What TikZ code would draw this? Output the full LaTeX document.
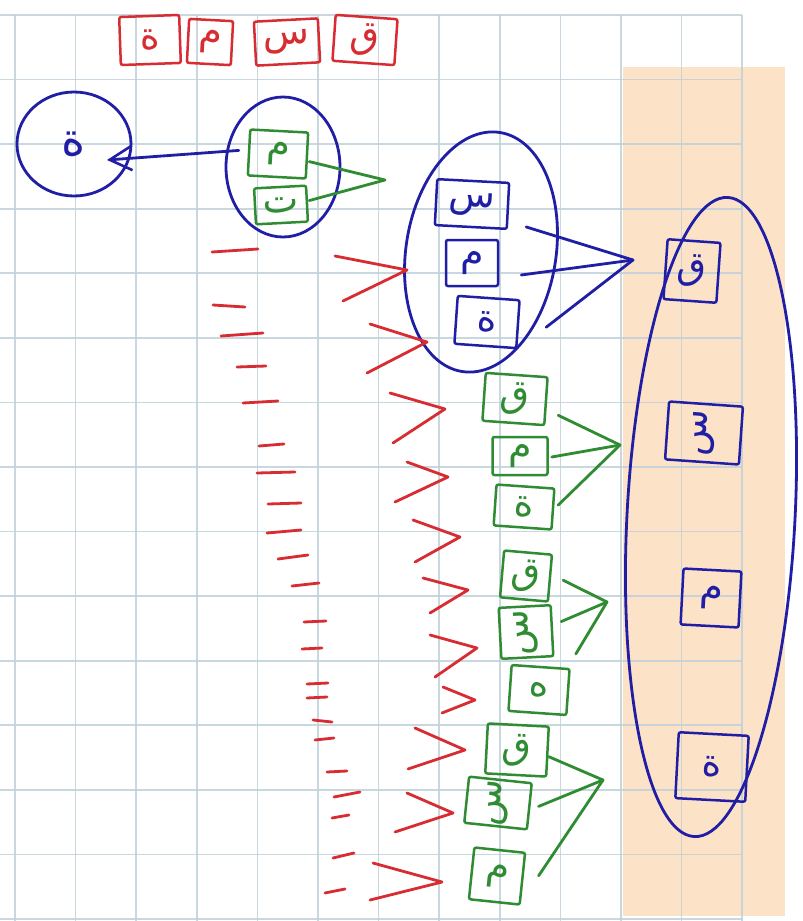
\documentclass[tikz,border=0pt]{standalone}
\usepackage{fontspec}
\usepackage{graphicx}
\newfontfamily\arabicfont[Script=Arabic]{DejaVu Sans}
\TeXXeTstate=1
\usetikzlibrary{shapes.geometric,arrows.meta}
\definecolor{gridc}{RGB}{192,208,218}
\definecolor{peach}{RGB}{252,226,198}
\definecolor{penblue}{RGB}{32,30,165}
\definecolor{pengreen}{RGB}{48,140,50}
\definecolor{penred}{RGB}{215,45,50}
\newcommand{\arl}[1]{\beginR #1\endR}
\newcommand{\arrot}[1]{\rotatebox{90}{\beginR #1\endR}}
\tikzset{
  pen/.style={line width=2.8pt, line cap=round, line join=round},
  bl/.style={pen, draw=penblue},
  gr/.style={pen, draw=pengreen},
  rd/.style={pen, draw=penred},
  lbox/.style={rectangle, rounded corners=2pt, inner sep=0pt, line width=2.5pt,
    font=\arabicfont\fontsize{38}{40}\selectfont},
  gbox/.style={lbox, draw=pengreen, text=pengreen},
  bbox/.style={lbox, draw=penblue, text=penblue},
  rbox/.style={lbox, draw=penred, text=penred},
  bell/.style={ellipse, draw=penblue, line width=2.8pt, inner sep=0pt,
    font=\arabicfont\fontsize{46}{48}\selectfont, text=penblue},
  gridline/.style={draw=gridc, line width=1.6pt, opacity=0.85}
}
\begin{document}
\begin{tikzpicture}[x=1pt,y=-1pt]
\useasboundingbox (0,0) rectangle (803,921);
\fill[white] (0,0) rectangle (803,921);
\fill[peach] (623,67) rectangle (785,916);
\foreach \i in {0,...,12} \draw[gridline] ({15+60.6*\i},15) -- ({15+60.6*\i},921);
\foreach \j in {0,...,14} \draw[gridline] (0,{15+64.57*\j}) -- (742,{15+64.57*\j});

% top red row
\node[rbox, minimum width=60pt, minimum height=48pt, rotate=2] (t1) at (150,40) {\arl{ة}};
\node[rbox, minimum width=44pt, minimum height=44pt, rotate=-3] (t2) at (210,42) {\arl{م}};
\node[rbox, minimum width=64pt, minimum height=44pt, rotate=3] (t3) at (287,42) {\arl{س}};
\node[rbox, minimum width=62pt, minimum height=46pt, rotate=-4] (t4) at (365,40) {\arl{ق}};

% left circle and first pair
\node[bell, minimum width=114pt, minimum height=104pt] (e0) at (74,144) {\arl{ة}};
\node[bell, minimum width=114pt, minimum height=140pt] (mt) at (283,167) {};
\node[gbox, minimum width=58pt, minimum height=46pt, rotate=-3] (gm) at (278,154) {\arl{م}};
\node[gbox, minimum width=52pt, minimum height=36pt, rotate=3] (gt) at (281,205) {\arl{ت}};
\coordinate (a1) at (385,180);
\coordinate (ea) at (107,160);
\draw[gr] ([shift={(1,6)}]gm.east) -- (a1) -- ([shift={(1,-3)}]gt.east);
\draw[bl, -{Straight Barb[length=22pt, width=24pt, line width=2.6pt]}] ([shift={(-9,-2)}]gm.west) -- (ea);

% middle ellipse
\node[bell, minimum width=150pt, minimum height=242pt, rotate=-9] (sme) at (481,252) {};
\node[bbox, minimum width=72pt, minimum height=46pt, rotate=-3] (bs) at (472,204) {\arl{س}};
\node[bbox, minimum width=52pt, minimum height=46pt] (bm) at (472,263) {\arl{م}};
\node[bbox, minimum width=62pt, minimum height=48pt, rotate=-4] (be) at (487,322) {\arl{ة}};
\coordinate (a2) at (633,260);
\draw[bl] (a2) -- ([shift={(17,21)}]bs.east);
\draw[bl] (a2) -- ([shift={(22,12)}]bm.east);
\draw[bl] (a2) -- ([shift={(27,3)}]be.east);

% root ellipse
\node[bell, minimum width=168pt, minimum height=640pt, rotate=-3] (root) at (711,517) {};
\node[bbox, minimum width=53pt, minimum height=60pt, rotate=-4] (rq) at (692,271) {\arl{ق}};
\node[bbox, minimum width=74pt, minimum height=58pt, rotate=-4] (rs) at (704,433) {\arrot{س}};
\node[bbox, minimum width=58pt, minimum height=56pt, rotate=-3] (rm) at (711,598) {\arl{م}};
\node[bbox, minimum width=70pt, minimum height=66pt, rotate=-3] (re) at (712,767) {\arl{ة}};

% green group 1
\node[gbox, minimum width=62pt, minimum height=48pt, rotate=-4] (q1) at (515,399) {\arl{ق}};
\node[gbox, minimum width=55pt, minimum height=38pt] (m1) at (520,456) {\arl{م}};
\node[gbox, minimum width=58pt, minimum height=41pt, rotate=-4] (e1) at (524,507) {\arl{ة}};
\coordinate (g1) at (620,445);
\draw[gr] ([shift={(11,14)}]q1.east) -- (g1);
\draw[gr] ([shift={(3,1)}]m1.east) -- (g1);
\draw[gr] ([shift={(4,-4)}]e1.east) -- (g1);

% green group 2
\node[gbox, minimum width=48pt, minimum height=47pt, rotate=-5] (q2) at (526,576) {\arl{ق}};
\node[gbox, minimum width=52pt, minimum height=51pt, rotate=3] (s2) at (526,632) {\arrot{س}};
\node[gbox, minimum width=58pt, minimum height=46pt, rotate=-4] (h2) at (539,690) {\arl{ه}};
\coordinate (g2) at (607,602);
\draw[gr] ([shift={(12,2)}]q2.east) -- (g2);
\draw[gr] ([shift={(8,-9)}]s2.east) -- (g2);
\draw[gr] ([shift={(5,-14)}]h2.north east) -- (g2);

% green group 3
\node[gbox, minimum width=61pt, minimum height=50pt, rotate=-3] (q3) at (517,750) {\arl{ق}};
\node[gbox, minimum width=63pt, minimum height=43pt, rotate=-6] (s3) at (498,803) {\arrot{س}};
\node[gbox, minimum width=51pt, minimum height=52pt, rotate=-6] (m3) at (497,876) {\arl{م}};
\coordinate (g3) at (603,780);
\draw[gr] ([shift={(0,5)}]q3.east) -- (g3);
\draw[gr] ([shift={(8,0)}]s3.east) -- (g3);
\draw[gr] ([shift={(15,-3)}]m3.east) -- (g3);

% red tally marks
\foreach \ax/\ay/\bx/\by in {212/252/258/249, 213/305/245/307, 221/336/263/333,
  237/367/266/366, 243/403/278/401, 259/446/284/444, 257/473/295/472,
  268/504/301/503, 267/533/301/530, 278/559/308/555, 292/586/319/583,
  304/622/326/621, 302/649/322/648, 307/684/328/683, 307/698/327/697,
  313/720/332/722, 315/740/334/738, 327/772/347/771, 334/797/360/792,
  332/818/349/815, 333/858/354/853, 325/893/345/889}
  \draw[rd] (\ax,\ay) -- (\bx,\by);

% red comparison marks
\foreach \ax/\ay/\px/\py/\bx/\by in {335/256/407/270/343/301,
  370/324/427/342/367/373, 390/393/445/409/393/443, 407/462/448/477/395/502,
  413/520/460/537/415/562, 423/578/468/590/430/613, 430/635/477/648/435/677,
  443/687/475/700/442/713, 415/728/465/750/408/769, 407/793/453/813/395/832,
  373/863/442/882/370/900}
  \draw[rd] (\ax,\ay) -- (\px,\py) -- (\bx,\by);
\end{tikzpicture}
\end{document}
